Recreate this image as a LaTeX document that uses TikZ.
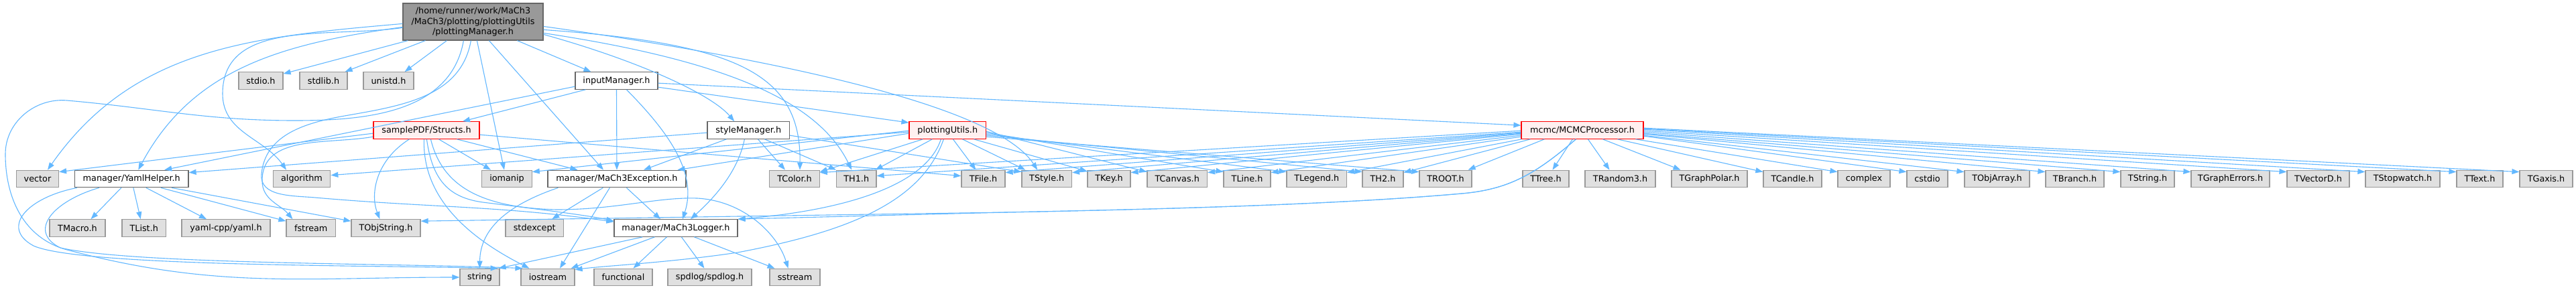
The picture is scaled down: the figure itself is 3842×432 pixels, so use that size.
\documentclass[tikz,border=0pt]{standalone}
\usepackage{fontspec}
\setmainfont{DejaVu Sans}
\usetikzlibrary{arrows.meta}
\definecolor{edgec}{HTML}{63B8FF}
\definecolor{gfill}{HTML}{E0E0E0}
\definecolor{gborder}{HTML}{999999}
\definecolor{wborder}{HTML}{666666}
\definecolor{rfill}{HTML}{FFF0F0}
\definecolor{mfill}{HTML}{999999}
\begin{document}
\begin{tikzpicture}[x=1pt,y=1pt,
  font=\fontsize{12.8}{15.3}\selectfont,
  base/.style={draw, line width=1.2pt, inner sep=0pt, minimum height=25.5pt, text=black},
  gn/.style={base, fill=gfill, draw=gborder},
  wn/.style={base, fill=white, draw=wborder},
  rn/.style={base, fill=rfill, draw=red},
  mn/.style={base, fill=mfill, draw=wborder, align=center},
  e/.style={draw=edgec, line width=1.1pt, -{Triangle[length=11pt,width=8pt]}}]
\useasboundingbox (0,0) rectangle (3842,-432);
\fill[white] (0,0) rectangle (3842,-432);

% main
\node[mn, minimum width=209, minimum height=55] (M) at (705.5,-32.5) {/home/runner/work/MaCh3\\/MaCh3/plotting/plottingUtils\\/plottingManager.h};
% row 1
\node[gn, minimum width=66] (stdio) at (389,-120.5) {stdio.h};
\node[gn, minimum width=71] (stdlib) at (482.5,-120.5) {stdlib.h};
\node[gn, minimum width=75] (unistd) at (579.5,-120.5) {unistd.h};
\node[wn, minimum width=123] (I) at (919.5,-120.5) {inputManager.h};
% row 2
\node[rn, minimum width=158] (St) at (636,-194.5) {samplePDF/Structs.h};
\node[wn, minimum width=122.5] (S) at (1116.25,-194.5) {styleManager.h};
\node[rn, minimum width=114.5] (P) at (1413.25,-194.5) {plottingUtils.h};
\node[rn, minimum width=182] (C) at (2360,-194.5) {mcmc/MCMCProcessor.h};
% row 3
\node[gn, minimum width=63] (vector) at (56,-267) {vector};
\node[wn, minimum width=169.5] (Y) at (196.25,-267) {manager/YamlHelper.h};
\node[gn, minimum width=85.5] (algorithm) at (450,-267) {algorithm};
\node[gn, minimum width=74.5] (iomanip) at (756,-267) {iomanip};
\node[wn, minimum width=206] (E) at (920,-267) {manager/MaCh3Exception.h};
\node[gn, minimum width=74.5] (TColor) at (1185,-267) {TColor.h};
\node[gn, minimum width=59.5] (TH1) at (1277.25,-267) {TH1.h};
\node[gn, minimum width=65] (TFile) at (1466.5,-267) {TFile.h};
\node[gn, minimum width=74.5] (TStyle) at (1561.25,-267) {TStyle.h};
\node[gn, minimum width=64] (TKey) at (1654,-267) {TKey.h};
\node[gn, minimum width=89.5] (TCanvas) at (1755.75,-267) {TCanvas.h};
\node[gn, minimum width=70] (TLine) at (1860,-267) {TLine.h};
\node[gn, minimum width=89.5] (TLegend) at (1963.75,-267) {TLegend.h};
\node[gn, minimum width=61] (TH2) at (2062.5,-267) {TH2.h};
\node[gn, minimum width=78] (TROOT) at (2156,-267) {TROOT.h};
\node[gn, minimum width=69] (TTree) at (2305.5,-267) {TTree.h};
\node[gn, minimum width=105] (TRandom) at (2416.5,-267) {TRandom3.h};
\node[gn, minimum width=113] (TGraphPolar) at (2549.5,-267) {TGraphPolar.h};
\node[gn, minimum width=87] (TCandle) at (2673.5,-267) {TCandle.h};
\node[gn, minimum width=78] (complex) at (2780,-267) {complex};
\node[gn, minimum width=61] (cstdio) at (2874.5,-267) {cstdio};
\node[gn, minimum width=97] (TObjArray) at (2978.5,-267) {TObjArray.h};
\node[gn, minimum width=87] (TBranch) at (3094.5,-267) {TBranch.h};
\node[gn, minimum width=80] (TString) at (3203,-267) {TString.h};
\node[gn, minimum width=117] (TGraphErrors) at (3326.5,-267) {TGraphErrors.h};
\node[gn, minimum width=93] (TVectorD) at (3457.5,-267) {TVectorD.h};
\node[gn, minimum width=111] (TStopwatch) at (3583.5,-267) {TStopwatch.h};
\node[gn, minimum width=69] (TText) at (3698.5,-267) {TText.h};
\node[gn, minimum width=79] (TGaxis) at (3797.5,-267) {TGaxis.h};
% row 4
\node[gn, minimum width=83] (TMacro) at (115.5,-340.5) {TMacro.h};
\node[gn, minimum width=65.5] (TList) at (214.75,-340.5) {TList.h};
\node[gn, minimum width=132] (yaml) at (337,-340.5) {yaml-cpp/yaml.h};
\node[gn, minimum width=73.5] (fstream) at (463.75,-340.5) {fstream};
\node[gn, minimum width=103] (TObjString) at (575.5,-340.5) {TObjString.h};
\node[gn, minimum width=86.5] (stdexcept) at (797.25,-340.5) {stdexcept};
\node[wn, minimum width=184] (L) at (1008,-340.5) {manager/MaCh3Logger.h};
% row 5
\node[gn, minimum width=59] (string) at (715.5,-414) {string};
\node[gn, minimum width=80] (iostream) at (817,-414) {iostream};
\node[gn, minimum width=87] (functional) at (929.5,-414) {functional};
\node[gn, minimum width=125] (spdlog) at (1058.5,-414) {spdlog/spdlog.h};
\node[gn, minimum width=75] (sstream) at (1185.5,-414) {sstream};

% ---- edges from main
\draw[e] ([xshift=8]M.south west) -- ([yshift=-3]stdio.north east);
\draw[e] ([xshift=34]M.south west) -- ([xshift=-4]stdlib.north east);
\draw[e] ([xshift=66]M.south west) -- ([xshift=-14]unistd.north east);
\draw[e] ([xshift=91]M.south west) to[out=-100,in=0] (440,-180) to[out=180,in=-5] (100,-150) to[out=175,in=90] (8,-230) to[out=-90,in=165] (100,-373) to[out=-15,in=180] (string.west);
\draw[e] ([xshift=102]M.south west) to[out=-100,in=10] (514,-173) to[out=190,in=85] (390,-260) to[out=-95,in=175] (470,-295) to[out=-5,in=172] ([yshift=-4]L.north west);
\draw[e] ([xshift=111]M.south west) -- ([xshift=-4]iomanip.north);
\draw[e] ([xshift=129]M.south west) -- ([xshift=-20]E.north);
\draw[e] ([xshift=171]M.south west) -- ([xshift=24]I.north west);
\draw[e] ([yshift=-31]M.north west) to[out=185,in=55] ([xshift=15]vector.north);
\draw[e] ([yshift=-36]M.north west) to[out=188,in=62] ([xshift=10]Y.north);
\draw[e] ([yshift=-37]M.north west) to[out=188,in=90] (332,-140) to[out=-90,in=125] ([xshift=-23]algorithm.north);
\draw[e] ([yshift=-35]M.north east) .. controls (1100,-80) and (1480,-150) .. ([xshift=-14]TStyle.north);
\draw[e] ([yshift=-40]M.north east) .. controls (1100,-65) and (1195,-110) .. ([xshift=8]TColor.north);
\draw[e] ([yshift=-45]M.north east) .. controls (1080,-90) and (1220,-150) .. ([xshift=-7]TH1.north);
\draw[e] ([yshift=-47]M.north east) .. controls (950,-90) and (1060,-140) .. ([xshift=-21]S.north);

% ---- inputManager
\draw[e] ([yshift=-22]I.north west) -- ([xshift=49]Y.north);
\draw[e] ([xshift=16]I.south west) -- ([xshift=54]St.north);
\draw[e] (I.south) -- (E.north);
\draw[e] ([xshift=77]I.south west) .. controls (1000,-200) and (1040,-260) .. ([xshift=10]L.north);
\draw[e] ([yshift=-23]I.north east) -- ([yshift=-2]P.north west);
\draw[e] ([yshift=-17]I.north east) -- ([yshift=-6]C.north west);

% ---- styleManager
\draw[e] ([yshift=-17]S.north west) -- ([yshift=-4]Y.north east);
\draw[e] ([xshift=29]S.south west) -- ([xshift=40]E.north);
\draw[e] ([xshift=56]S.south west) .. controls (1100,-260) and (1060,-300) .. ([xshift=22]L.north);
\draw[e] ([xshift=76]S.south west) -- ([xshift=-14]TColor.north);
\draw[e] ([xshift=86]S.south west) -- (TH1.north west);
\draw[e] ([yshift=-21]S.north east) -- ([yshift=-3]TStyle.north west);

% ---- Structs
\draw[e] ([yshift=-18]St.north west) -- ([yshift=-3]vector.north east);
\draw[e] ([yshift=-23]St.north west) to[out=190,in=90] (391,-270) to[out=-90,in=130] ([xshift=10]fstream.north west);
\draw[e] ([xshift=54]St.south west) .. controls (560,-240) and (552,-290) .. ([xshift=-9]TObjString.north);
\draw[e] ([xshift=76]St.south west) .. controls (630,-290) and (690,-350) .. ([xshift=13]iostream.north west);
\draw[e] ([xshift=80]St.south west) .. controls (645,-270) and (670,-295) .. (720,-302) .. controls (800,-312) and (880,-322) .. ([yshift=-3]L.north west);
\draw[e] ([xshift=86]St.south west) .. controls (660,-280) and (720,-310) .. (830,-313) .. controls (920,-313) and (980,-294) .. (1040,-296) .. controls (1110,-300) and (1160,-350) .. ([xshift=-10]sstream.north);
\draw[e] ([xshift=98]St.south west) -- ([xshift=-24]iomanip.north);
\draw[e] ([xshift=125]St.south west) -- ([xshift=45]E.north west);
\draw[e] ([yshift=-20]St.north east) -- ([yshift=-9]TFile.north west);

% ---- plottingUtils
\draw[e] ([yshift=-16]P.north west) -- ([yshift=-8]algorithm.north east);
\draw[e] ([yshift=-14]P.north west) -- ([yshift=-3]iomanip.north east);
\draw[e] ([yshift=-18]P.north west) -- ([xshift=-13]E.north east);
\draw[e] ([xshift=21]P.south west) -- ([yshift=-3]TColor.north east);
\draw[e] ([xshift=35]P.south west) -- ([xshift=-2]TH1.north east);
\draw[e] ([xshift=48]P.south west) .. controls (1380,-280) and (1250,-315) .. (L.north east);
\draw[e] ([xshift=52]P.south west) .. controls (1375,-300) and (1270,-345) .. (1100,-377) .. controls (1000,-392) and (900,-397) .. ([yshift=-2]iostream.north east);
\draw[e] ([xshift=66]P.south west) -- ([xshift=-11]TFile.north);
\draw[e] ([xshift=80]P.south west) -- ([xshift=-32]TStyle.north);
\draw[e] ([xshift=97]P.south west) -- ([yshift=-2]TKey.north west);
\draw[e] ([yshift=-15]P.north east) -- ([yshift=-3]TCanvas.north west);
\draw[e] ([yshift=-17]P.north east) -- ([yshift=-3]TLine.north west);
\draw[e] ([yshift=-19]P.north east) -- ([yshift=-3]TLegend.north west);
\draw[e] ([yshift=-21]P.north east) -- ([yshift=-3]TH2.north west);
\draw[e] ([yshift=-23]P.north east) -- ([yshift=-3]TROOT.north west);

% ---- MCMCProcessor
\draw[e] ([yshift=-14]C.north west) -- ([yshift=-4]TColor.north east);
\draw[e] ([yshift=-16]C.north west) -- ([yshift=-9]TH1.north east);
\draw[e] ([yshift=-17]C.north west) -- ([yshift=-4]TFile.north east);
\draw[e] ([yshift=-18]C.north west) -- ([yshift=-4]TStyle.north east);
\draw[e] ([yshift=-19]C.north west) -- ([yshift=-4]TKey.north east);
\draw[e] ([yshift=-21]C.north west) -- ([yshift=-4]TCanvas.north east);
\draw[e] ([yshift=-23]C.north west) -- ([yshift=-4]TLine.north east);
\draw[e] ([xshift=1]C.south west) -- ([yshift=-4]TLegend.north east);
\draw[e] ([xshift=14]C.south west) -- ([yshift=-4]TH2.north east);
\draw[e] ([xshift=35]C.south west) -- ([xshift=-6]TROOT.north east);
\draw[e] ([xshift=82]C.south west) .. controls (2290,-260) and (2250,-283) .. (2180,-289) .. controls (2000,-305) and (1750,-312) .. (1500,-317) -- (L.north east);
\draw[e] ([xshift=82]C.south west) .. controls (2290,-260) and (2250,-283) .. (2180,-289) .. controls (2000,-305) and (1750,-312) .. (1500,-317) -- ([yshift=-3]TObjString.north east);
\draw[e] ([xshift=77]C.south west) -- ([xshift=10]TTree.north);
\draw[e] ([xshift=100]C.south west) -- ([xshift=-16]TRandom.north);
\draw[e] ([xshift=122]C.south west) -- ([xshift=-43]TGraphPolar.north);
\draw[e] ([xshift=144]C.south west) -- ([yshift=-3]TCandle.north west);
\draw[e] ([xshift=171]C.south west) -- ([yshift=-3]complex.north west);
\draw[e] ([yshift=-22]C.north east) -- ([yshift=-3]cstdio.north west);
\draw[e] ([yshift=-21]C.north east) -- ([yshift=-3]TObjArray.north west);
\draw[e] ([yshift=-19]C.north east) -- ([yshift=-3]TBranch.north west);
\draw[e] ([yshift=-18]C.north east) -- ([yshift=-3]TString.north west);
\draw[e] ([yshift=-16]C.north east) -- ([yshift=-3]TGraphErrors.north west);
\draw[e] ([yshift=-14]C.north east) -- ([yshift=-3]TVectorD.north west);
\draw[e] ([yshift=-12]C.north east) -- ([yshift=-3]TStopwatch.north west);
\draw[e] ([yshift=-11]C.north east) -- ([yshift=-3]TText.north west);
\draw[e] ([yshift=-10]C.north east) -- ([yshift=-3]TGaxis.north west);

% ---- YamlHelper
\draw[e] ([xshift=70]Y.south west) -- ([xshift=20]TMacro.north);
\draw[e] ([xshift=88]Y.south west) -- ([xshift=-5]TList.north);
\draw[e] ([xshift=107]Y.south west) -- ([xshift=-29]yaml.north);
\draw[e] ([xshift=129]Y.south west) -- ([yshift=-3]fstream.north west);
\draw[e] ([xshift=145]Y.south west) -- ([yshift=-3]TObjString.north west);
\draw[e] ([xshift=4]Y.south west) .. controls (40,-295) and (0,-340) .. (50,-367) .. controls (120,-398) and (550,-396) .. ([xshift=-3]string.north east);
\draw[e] ([xshift=37]Y.south west) .. controls (80,-300) and (40,-345) .. (90,-370) .. controls (200,-395) and (600,-393) .. ([xshift=3]iostream.north west);

% ---- MaCh3Exception
\draw[e] ([xshift=16]E.south west) .. controls (760,-305) and (716,-340) .. (string.north);
\draw[e] ([xshift=83]E.south west) -- ([xshift=26]stdexcept.north);
\draw[e] ([xshift=93]E.south west) -- ([xshift=18]iostream.north);
\draw[e] ([xshift=118]E.south west) -- ([xshift=-23]L.north);

% ---- MaCh3Logger
\draw[e] ([xshift=43]L.south west) -- ([xshift=-2]string.north east);
\draw[e] ([xshift=61]L.south west) -- ([xshift=-6]iostream.north east);
\draw[e] ([xshift=79]L.south west) -- ([xshift=15]functional.north);
\draw[e] ([xshift=101]L.south west) -- ([xshift=-8]spdlog.north);
\draw[e] ([xshift=120]L.south west) -- ([xshift=-30]sstream.north);
\end{tikzpicture}
\end{document}
